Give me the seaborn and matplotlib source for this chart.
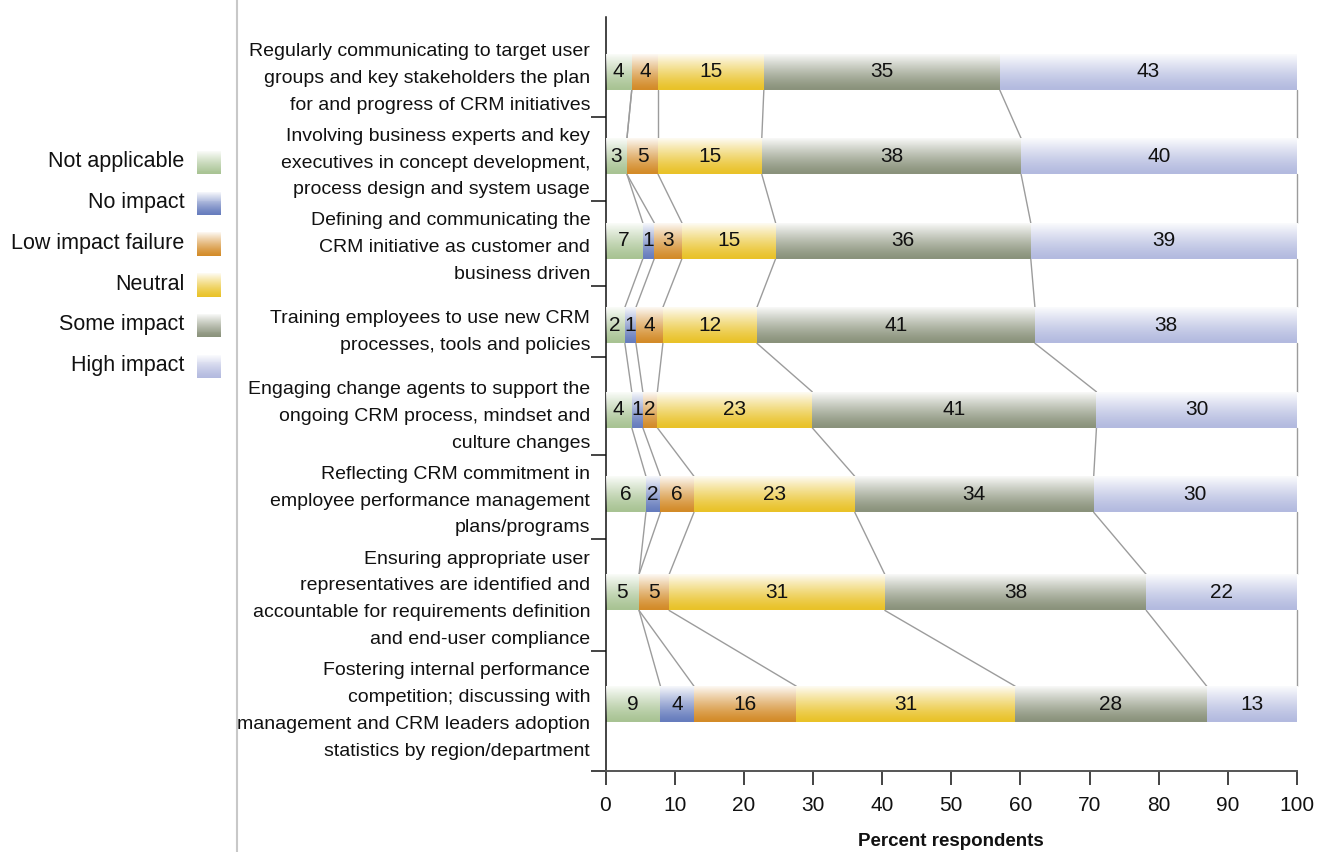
import numpy as np
import seaborn as sns
import matplotlib
matplotlib.use("Agg")
import matplotlib.pyplot as plt
from matplotlib.patches import Rectangle, Patch
from matplotlib.lines import Line2D
from matplotlib.legend_handler import HandlerBase
from matplotlib.colors import to_rgb

statements = [
    "Regularly communicating to target user\ngroups and key stakeholders the plan\nfor and progress of CRM initiatives",
    "Involving business experts and key\nexecutives in concept development,\nprocess design and system usage",
    "Defining and communicating the\nCRM initiative as customer and\nbusiness driven",
    "Training employees to use new CRM\nprocesses, tools and policies",
    "Engaging change agents to support the\nongoing CRM process, mindset and\nculture changes",
    "Reflecting CRM commitment in\nemployee performance management\nplans/programs",
    "Ensuring appropriate user\nrepresentatives are identified and\naccountable for requirements definition\nand end-user compliance",
    "Fostering internal performance\ncompetition; discussing with\nmanagement and CRM leaders adoption\nstatistics by region/department",
]
responses = ["Not applicable", "No impact", "Low impact failure",
             "Neutral", "Some impact", "High impact"]

# segment widths as drawn (percent respondents)
not_applicable = [3.8, 3.1, 5.4, 2.8, 3.8, 5.85, 4.85, 7.95]
no_impact = [0, 0, 1.65, 1.6, 1.6, 2.1, 0, 4.85]
low_impact = [3.8, 4.5, 4.0, 3.9, 2.1, 4.85, 4.35, 14.8]
neutral = [15.3, 15.0, 13.55, 13.6, 22.4, 23.25, 31.2, 31.65]
some_impact = [34.1, 37.5, 36.9, 40.2, 41.1, 34.55, 37.8, 27.7]
high_impact = [43.0, 39.9, 38.5, 37.9, 29.0, 29.4, 21.8, 13.05]

# numbers printed on the segments
lbl_not_applicable = [4, 3, 7, 2, 4, 6, 5, 9]
lbl_no_impact = [0, 0, 1, 1, 1, 2, 0, 4]
lbl_low_impact = [4, 5, 3, 4, 2, 6, 5, 16]
lbl_neutral = [15, 15, 15, 12, 23, 23, 31, 31]
lbl_some_impact = [35, 38, 36, 41, 41, 34, 38, 28]
lbl_high_impact = [43, 40, 39, 38, 30, 30, 22, 13]

colors = ["#a8c393", "#667cbd", "#d38b28", "#e9c228", "#8a927b", "#b3badf"]
ink = "#111111"

sns.set_style("ticks")
plt.rcParams["font.family"] = ["Liberation Sans", "DejaVu Sans"]
plt.rcParams.update({"text.color": ink, "axes.labelcolor": ink,
                     "xtick.color": ink, "ytick.color": ink,
                     "axes.edgecolor": ink})


def fade(t):
    # white overlay strength, t=0 top of bar, t=1 bottom
    return 0.95 * (1 - t) ** 1.3


class GradientHandler(HandlerBase):
    def create_artists(self, legend, orig_handle, xdescent, ydescent,
                       width, height, fontsize, trans):
        base = np.array(to_rgb(orig_handle.get_facecolor()))
        n = 24
        h = height + 4
        y0 = -ydescent - 4
        arts = []
        for i in range(n):
            t = 1 - (i + 0.5) / n
            a = fade(t)
            c = base * (1 - a) + a
            arts.append(Rectangle((-xdescent, y0 + h * i / n), width, h / n * 1.05,
                                  facecolor=c, edgecolor="none", transform=trans))
        return arts


widths = np.array([not_applicable, no_impact, low_impact,
                   neutral, some_impact, high_impact]).T
labels = np.array([lbl_not_applicable, lbl_no_impact, lbl_low_impact,
                   lbl_neutral, lbl_some_impact, lbl_high_impact]).T
cum = widths.cumsum(axis=1)
left = cum - widths

# rows are spaced by how many text lines their label needs
n_lines = np.array([s.count("\n") + 1 for s in statements])
band = np.maximum(n_lines, 3) + 0.1
ypos = np.concatenate([[0], np.cumsum((band[:-1] + band[1:]) / 2)])
bar_h = 1.32
ytop = -2.01
ybot = ypos[-1] + 2.45

fig = plt.figure(figsize=(13.29, 8.52), dpi=100)
ax = fig.add_axes([605.5 / 1329, 1 - 771 / 852, (1297 - 605.5) / 1329, (771 - 17) / 852])

gap = np.diff(ypos).min()
for k in range(len(responses) - 1, -1, -1):
    sns.barplot(x=cum[:, k], y=ypos, orient="y", native_scale=True,
                color=colors[k], saturation=1, width=bar_h / gap,
                errorbar=None, linewidth=0, ax=ax, zorder=2)

# light-to-dark vertical shading on each bar
t = np.linspace(0, 1, 64)[:, None]
img = np.ones((64, 2, 4))
img[..., 3] = fade(t)
for y in ypos:
    ax.imshow(img, extent=(0, 100, y + bar_h / 2, y - bar_h / 2), origin="upper",
              aspect="auto", interpolation="bilinear", zorder=3)

# connectors between matching segment boundaries
for i in range(len(ypos) - 1):
    for k in range(len(responses)):
        ax.plot([cum[i, k], cum[i + 1, k]],
                [ypos[i] + bar_h / 2, ypos[i + 1] - bar_h / 2],
                color="#9c9c9c", lw=1.0, zorder=1, clip_on=False)

for i, y in enumerate(ypos):
    for k in range(len(responses)):
        if labels[i, k] > 0:
            ax.text(left[i, k] + widths[i, k] / 2, y, str(labels[i, k]),
                    ha="center", va="center", fontsize=15, color=ink, zorder=4)

ax.set_xlim(0, 100)
ax.set_ylim(ybot, ytop)
ax.set_xticks(np.arange(0, 101, 10))
ax.set_xlabel("Percent respondents", fontsize=13.5, fontweight="bold", labelpad=13)
ax.tick_params(axis="x", length=10, width=1.1, pad=8, labelsize=15)

# separator ticks sit just under each statement's text block
seps = list(ypos[:-1] + n_lines[:-1] / 2 + 0.15) + [ybot]
ax.set_yticks(seps)
ax.set_yticklabels([""] * len(seps))
ax.set_yticks(ypos, minor=True)
ax.set_yticklabels(statements, minor=True, linespacing=1.75)
ax.tick_params(axis="y", which="major", length=11, width=1.1, direction="out")
ax.tick_params(axis="y", which="minor", length=0, pad=11, labelsize=14)

sns.despine(ax=ax, right=True, top=True)
ax.spines["left"].set_linewidth(1.1)
ax.spines["bottom"].set_linewidth(1.4)
ax.spines["bottom"].set_color("#555555")

handles = [Patch(facecolor=c) for c in colors]
fig.legend(handles, responses, loc="upper right",
           bbox_to_anchor=(221 / 1329, 1 - 151 / 852), frameon=False,
           markerfirst=False, handler_map={Patch: GradientHandler()},
           fontsize=15.5, handlelength=1.1, handleheight=0.9,
           handletextpad=0.6, labelspacing=0.9, borderpad=0, borderaxespad=0)

fig.add_artist(Line2D([237 / 1329, 237 / 1329], [0, 1], color="#c8c8c8",
                      lw=1.5, transform=fig.transFigure))

fig.savefig("out.png", dpi=100)
